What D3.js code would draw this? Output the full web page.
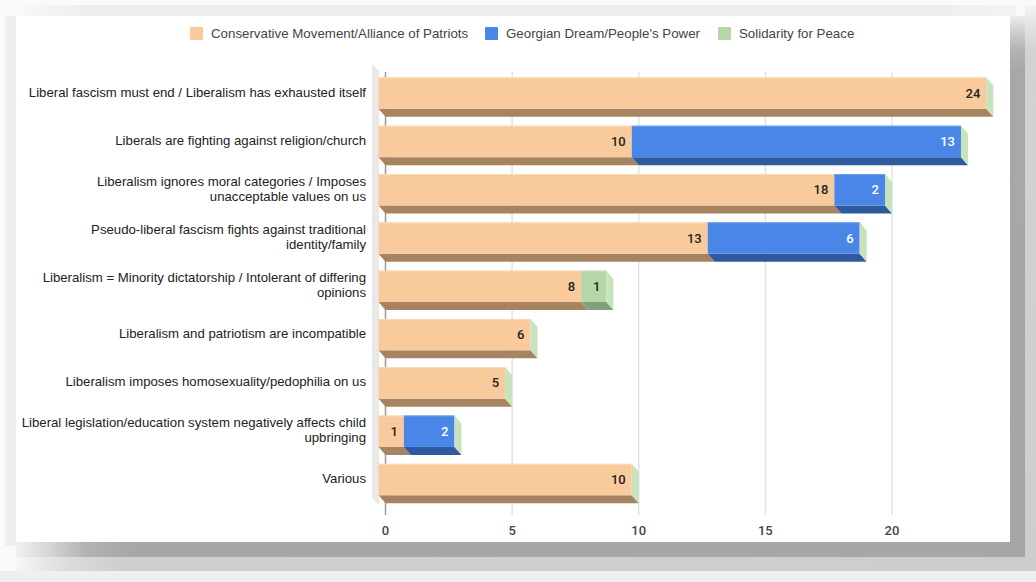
<!DOCTYPE html>
<html><head><meta charset="utf-8">
<script src="https://cdn.jsdelivr.net/npm/d3@7"></script>
<style>html,body{margin:0;padding:0;background:#fff;}svg{display:block;}</style>
</head><body>
<svg id="c" width="1036" height="582"></svg>
<script>
const categories = [
  ["Liberal fascism must end / Liberalism has exhausted itself"],
  ["Liberals are fighting against religion/church"],
  ["Liberalism ignores moral categories / Imposes", "unacceptable values on us"],
  ["Pseudo-liberal fascism fights against traditional", "identity/family"],
  ["Liberalism = Minority dictatorship / Intolerant of differing", "opinions"],
  ["Liberalism and patriotism are incompatible"],
  ["Liberalism imposes homosexuality/pedophilia on us"],
  ["Liberal legislation/education system negatively affects child", "upbringing"],
  ["Various"]
];
const seriesNames = ["Conservative Movement/Alliance of Patriots", "Georgian Dream/People's Power", "Solidarity for Peace"];
const conservative = [24, 10, 18, 13, 8, 6, 5, 1, 10];
const georgianDream = [0, 13, 2, 6, 0, 0, 0, 2, 0];
const solidarity = [0, 0, 0, 0, 1, 0, 0, 0, 0];
const xTicks = [0, 5, 10, 15, 20];

const seriesValues = [conservative, georgianDream, solidarity];
const colors = ["#f9cb9c", "#4a86e8", "#b6d7a8"];
const bottomColors = ["#a68462", "#2f5a9e", "#84a07a"];
const sideColors = ["#fbd9b6", "#6d9eeb", "#c7e3bc"];
const labelColors = ["#222", "#fff", "#222"];

const svg = d3.select("#c");
const FONT = "'Liberation Sans', Arial, sans-serif";
const NUMFONT = "Roboto, 'Liberation Sans', sans-serif";

// ---------- frame shadow ----------
const defs = svg.append("defs");
function lg(id, x1, y1, x2, y2, stops) {
  const g = defs.append("linearGradient").attr("id", id)
    .attr("x1", x1).attr("y1", y1).attr("x2", x2).attr("y2", y2);
  stops.forEach(s => g.append("stop").attr("offset", s[0]).attr("stop-color", s[1]));
}
lg("gR1", 0, 0, 0, 1, [[0, "#ececec"], [0.02, "#d8d8d8"], [0.06, "#b4b4b4"], [0.1, "#a8a8a8"], [1, "#a6a6a6"]]);
lg("gR2", 0, 0, 0, 1, [[0, "#f5f5f5"], [0.03, "#e6e6e6"], [0.08, "#d2d2d2"], [1, "#cdcdcd"]]);
lg("gB1", 0, 0, 1, 0, [[0, "#f0f0f0"], [0.03, "#d8d8d8"], [0.07, "#b2b2b2"], [0.12, "#a6a6a6"], [1, "#a6a6a6"]]);
lg("gB2", 0, 0, 1, 0, [[0, "#f6f6f6"], [0.05, "#dcdcdc"], [0.1, "#cfcfcf"], [1, "#cdcdcd"]]);
lg("gT", 0, 0, 1, 0, [[0, "#f9f9f9"], [0.06, "#efefef"], [0.9, "#ededed"], [1, "#f3f3f3"]]);

svg.append("rect").attr("x", 0).attr("y", 0).attr("width", 1036).attr("height", 582).attr("fill", "#fafafa");
svg.append("rect").attr("x", 16).attr("y", 5).attr("width", 1000).attr("height", 11).attr("fill", "url(#gT)");
svg.append("rect").attr("x", 5).attr("y", 16).attr("width", 11).attr("height", 530).attr("fill", "#efefef");
svg.append("rect").attr("x", 1010).attr("y", 16).attr("width", 15).attr("height", 541).attr("fill", "url(#gR1)");
svg.append("rect").attr("x", 1025).attr("y", 5).attr("width", 11).attr("height", 566).attr("fill", "url(#gR2)");
svg.append("rect").attr("x", 16).attr("y", 542).attr("width", 1009).attr("height", 15).attr("fill", "url(#gB1)");
svg.append("rect").attr("x", 16).attr("y", 557).attr("width", 1020).attr("height", 14).attr("fill", "url(#gB2)");
svg.append("rect").attr("x", 0).attr("y", 571).attr("width", 1036).attr("height", 11).attr("fill", "#efefef");
svg.append("rect").attr("x", 16).attr("y", 16).attr("width", 994).attr("height", 526).attr("fill", "#fff");

// ---------- scales ----------
const DX = 7, DY = 8;
const x = d3.scaleLinear().domain([0, 20]).range([385.5, 892]);
const y = d3.scaleBand().domain(d3.range(categories.length))
  .range([69, 69 + 9 * 48.3]).paddingInner(0.35).paddingOuter(0.175);
const bw = y.bandwidth();

// ---------- back plane: left wall, gridlines ----------
const plotTop = 72, plotBottom = 515;
svg.append("polygon")
  .attr("points", [[372, 64], [379, 71], [379, 505], [385, 512], [372, 498]].map(p => p.join(",")).join(" "))
  .attr("fill", "#e9e9e9");

svg.append("g").selectAll("line").data(xTicks.filter(t => t !== 0)).join("line")
  .attr("x1", d => x(d)).attr("x2", d => x(d))
  .attr("y1", plotTop).attr("y2", plotBottom)
  .attr("stroke", "#e3e3e3").attr("stroke-width", 1.5);
svg.append("line").attr("x1", x(0)).attr("x2", x(0)).attr("y1", plotTop).attr("y2", plotBottom)
  .attr("stroke", "#9a9a9a").attr("stroke-width", 1.5);

// tick labels
svg.append("g").selectAll("text").data(xTicks).join("text")
  .attr("x", d => x(d)).attr("y", 535)
  .attr("text-anchor", "middle")
  .attr("font-family", NUMFONT).attr("font-size", 13).attr("font-weight", 500)
  .attr("fill", "#444").text(d => d);

// ---------- bars ----------
const fx = v => x(v) - DX; // front-face x
const barsG = svg.append("g");
categories.forEach((cat, i) => {
  const yt = y(i), yb = yt + bw;
  let cum = 0;
  const segs = [];
  seriesValues.forEach((vals, s) => {
    const v = vals[i];
    if (v > 0) { segs.push({ s, x0: fx(cum), x1: fx(cum + v), v }); }
    cum += v;
  });
  const g = barsG.append("g");
  segs.forEach(seg => {
    g.append("polygon")
      .attr("points", [[seg.x0, yb], [seg.x1, yb], [seg.x1 + DX, yb + DY], [seg.x0 + DX, yb + DY]].map(p => p.join(",")).join(" "))
      .attr("fill", bottomColors[seg.s]);
    g.append("rect").attr("x", seg.x0).attr("y", yt).attr("width", seg.x1 - seg.x0).attr("height", bw)
      .attr("fill", colors[seg.s]);
    g.append("line").attr("x1", seg.x0).attr("x2", seg.x1).attr("y1", yt + 0.5).attr("y2", yt + 0.5)
      .attr("stroke", sideColors[seg.s]).attr("stroke-width", 1);
  });
  const xe = fx(cum);
  g.append("polygon")
    .attr("points", [[xe, yt], [xe + DX, yt + DY], [xe + DX, yb + DY], [xe, yb]].map(p => p.join(",")).join(" "))
    .attr("fill", sideColors[2]);
  segs.forEach(seg => {
    g.append("text")
      .attr("x", seg.x1 - 6).attr("y", yt + bw / 2 + 4.5)
      .attr("text-anchor", "end")
      .attr("font-family", NUMFONT).attr("font-size", 13).attr("font-weight", 500)
      .attr("fill", labelColors[seg.s]).text(seg.v);
  });
});

// ---------- category labels ----------
const catG = svg.append("g");
categories.forEach((lines, i) => {
  const cy = y(i) + bw / 2;
  const t = catG.append("text").attr("text-anchor", "end")
    .attr("font-family", FONT).attr("font-size", 13.2).attr("fill", "#222");
  const n = lines.length;
  lines.forEach((ln, k) => {
    t.append("tspan").attr("x", 366).attr("y", cy + 3.5 + (k - (n - 1) / 2) * 15).text(ln);
  });
});

// ---------- legend ----------
const legendX = [190, 485, 718];
const lgG = svg.append("g");
seriesNames.forEach((name, s) => {
  lgG.append("rect").attr("x", legendX[s]).attr("y", 27).attr("width", 13).attr("height", 13)
    .attr("rx", 1).attr("fill", colors[s]);
  lgG.append("text").attr("x", legendX[s] + 21).attr("y", 38)
    .attr("font-family", FONT).attr("font-size", 13.3).attr("fill", "#444").text(name);
});
</script>
</body></html>
